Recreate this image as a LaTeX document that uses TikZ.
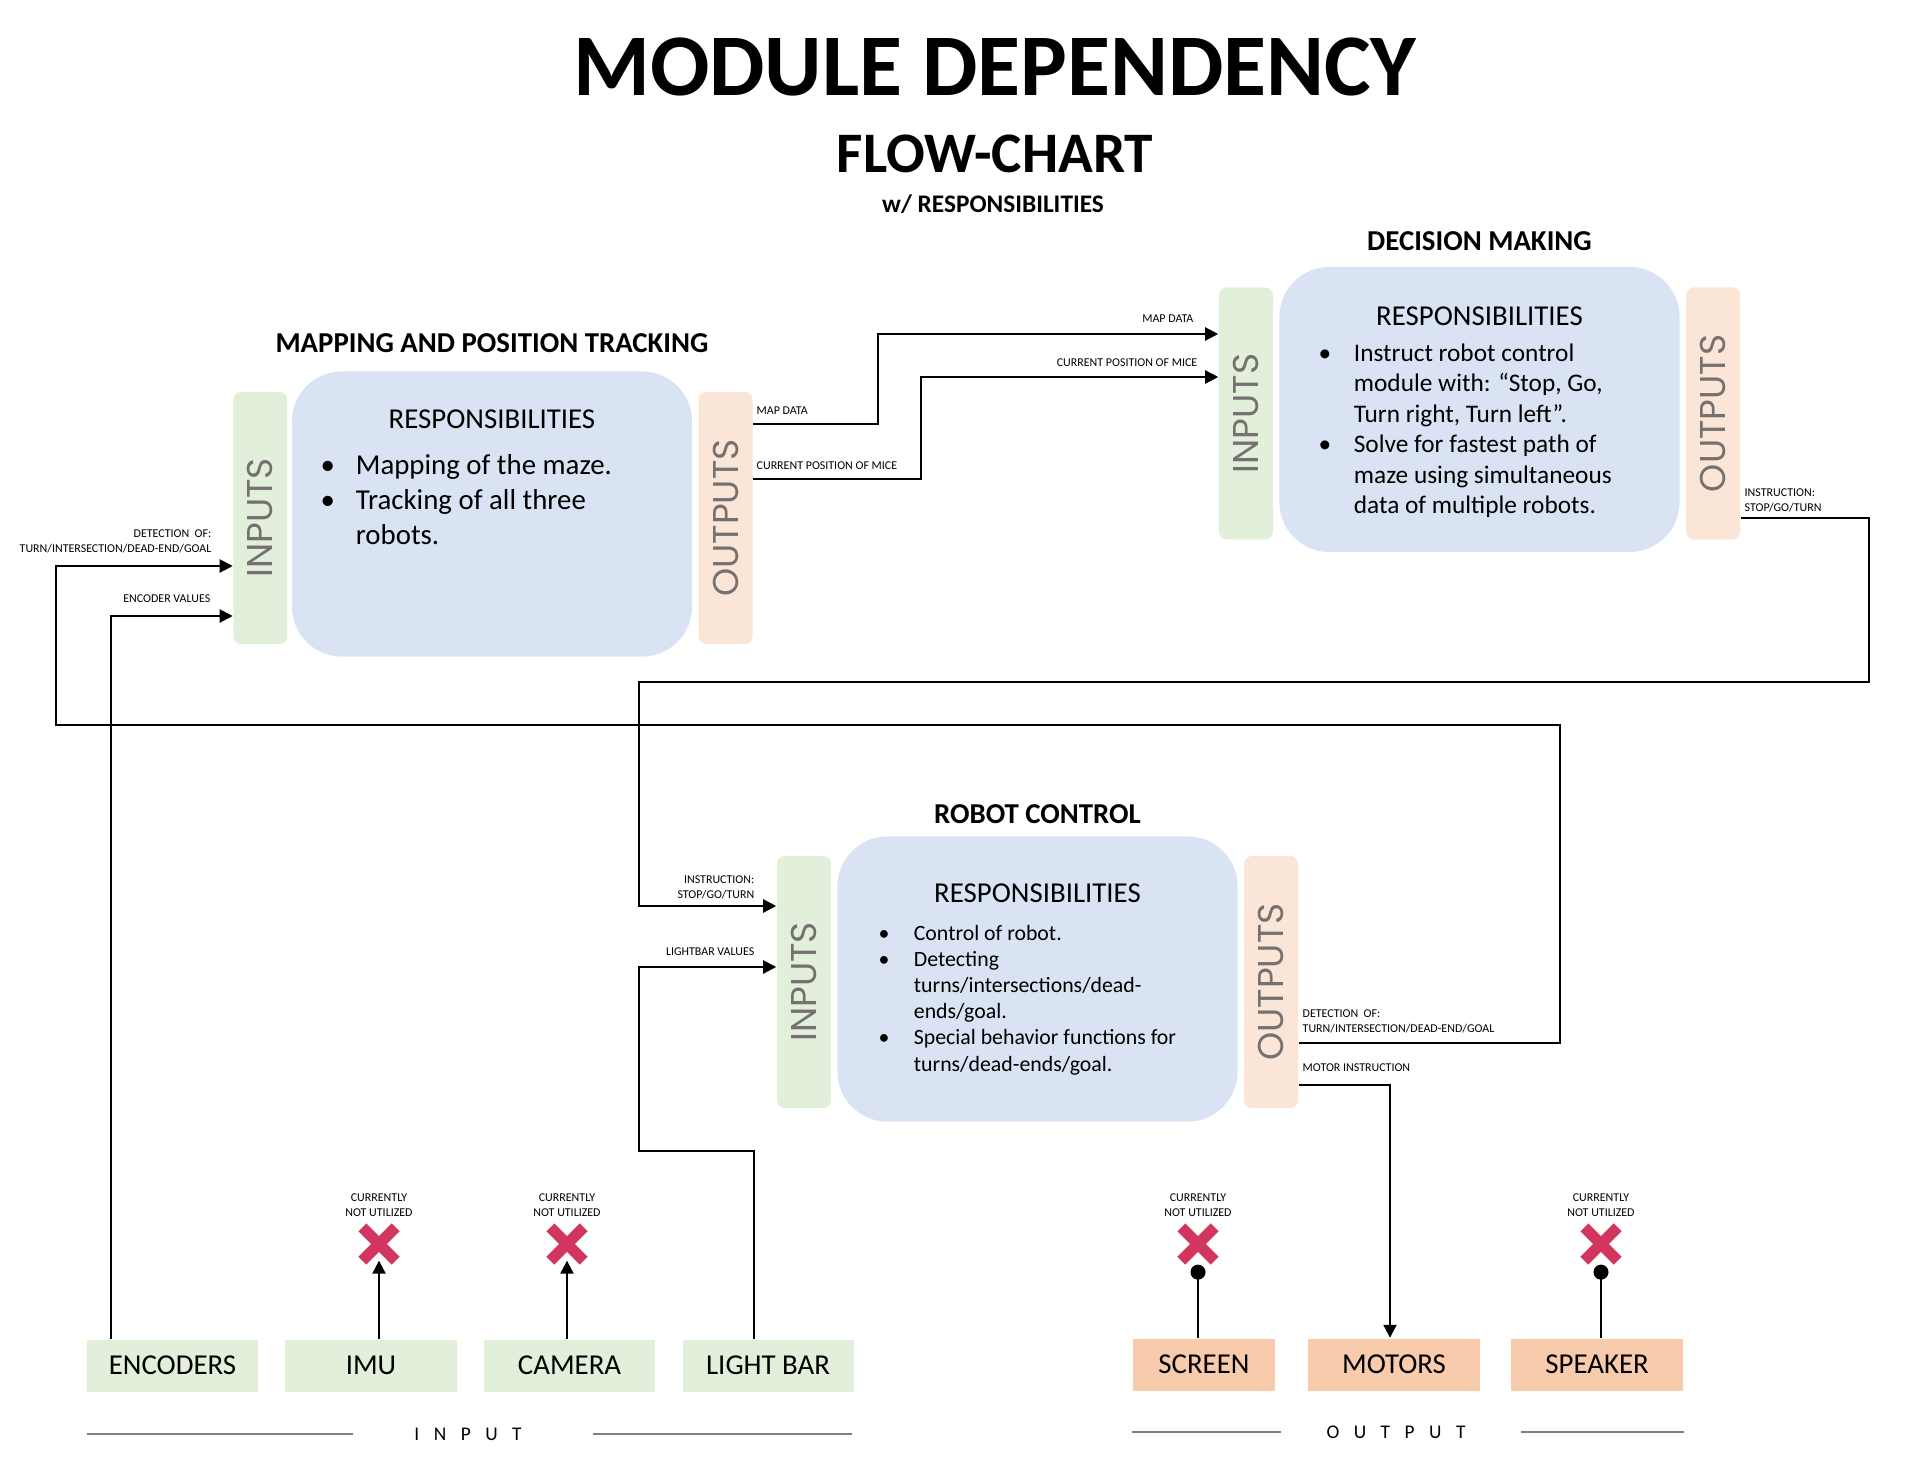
\documentclass[tikz,border=0pt]{standalone}
\usepackage{fontspec}
\setmainfont{Carlito}
\newfontfamily\barfont{Poppins}
\usetikzlibrary{positioning,arrows.meta,shapes.misc}

\definecolor{ingreen}{RGB}{226,239,218}
\definecolor{respblue}{RGB}{218,227,243}
\definecolor{outpeach}{RGB}{251,229,214}
\definecolor{devpeach}{RGB}{248,203,173}
\definecolor{bargray}{RGB}{118,113,113}
\definecolor{rulegray}{RGB}{128,128,128}
\definecolor{xred}{RGB}{210,54,95}

\newcommand{\bul}{\makebox[8.3pt][l]{\hspace*{-1.7pt}\textbullet}}
\newcommand{\nobul}{\hspace*{8.3pt}}

\tikzset{
  resp/.style={fill=respblue, rounded corners=0.5cm, minimum width=4cm, minimum height=2.85cm},
  inbar/.style={fill=ingreen, rounded corners=0.08cm, minimum width=0.54cm, minimum height=2.52cm,
    inner sep=0pt, text=bargray, font=\barfont\fontsize{10.2}{12}\selectfont},
  outbar/.style={inbar, fill=outpeach},
  modtitle/.style={font=\bfseries\fontsize{8.2}{10}\selectfont},
  resphead/.style={font=\fontsize{8.2}{10}\selectfont, inner sep=0pt},
  resplist/.style={anchor=base west, inner sep=0pt},
  device/.style={fill=ingreen, minimum width=1.71cm, minimum height=0.52cm, inner sep=0pt,
    font=\fontsize{8.2}{10}\selectfont},
  outdevice/.style={device, fill=devpeach},
  sig/.style={font=\fontsize{3.4}{4.2}\selectfont, inner sep=0pt},
  unused/.style={cross out, draw=xred, line width=3.2pt, minimum size=0.22cm, inner sep=0pt},
  flow/.style={line width=0.6pt, -{Triangle[length=0.13cm,width=0.13cm]}},
  wire/.style={line width=0.6pt},
  sep/.style={draw=rulegray, line width=0.6pt},
  sectlbl/.style={font=\fontsize{5.5}{6}\selectfont\addfontfeature{LetterSpace=75}},
}

\begin{document}
\begin{tikzpicture}[x=0.01cm, y=-0.01cm]
  \useasboundingbox (0,0) rectangle (1920,1484);

  % Titles
  \node (title) [anchor=base, font=\bfseries\fontsize{25}{30}\selectfont] at (995,95) {MODULE DEPENDENCY};
  \node (subtitle) [anchor=base, font=\bfseries\fontsize{16.3}{20}\selectfont] at (995,172) {FLOW-CHART};
  \node (tagline) [anchor=base, font=\bfseries\fontsize{7.2}{9}\selectfont] at (993,212) {w/ RESPONSIBILITIES};

  % Mapping module
  \node (map) [resp] at (492,514) {};
  \node (mapin) [inbar, left=0.03cm of map, yshift=-0.04cm] {\rotatebox{90}{INPUTS}};
  \node (mapout) [outbar, right=0.05cm of map, yshift=-0.04cm] {\rotatebox{90}{OUTPUTS}};
  \node (maptitle) [modtitle, above=0.06cm of map] {MAPPING AND POSITION TRACKING};
  \node (maphead) [resphead, below=0.38cm of map.north] {RESPONSIBILITIES};
  \node (maplist) [resplist, font=\fontsize{8.2}{10}\selectfont] at (326,474) {\begin{tabular}[t]{@{}l@{}}
      \bul Mapping of the maze.\\
      \bul Tracking of all three\\
      \nobul robots.
    \end{tabular}};

  % Decision module
  \node (dec) [resp] at (1479.5,409.5) {};
  \node (decin) [inbar, left=0.05cm of dec, yshift=-0.04cm] {\rotatebox{90}{INPUTS}};
  \node (decout) [outbar, right=0.05cm of dec, yshift=-0.04cm] {\rotatebox{90}{OUTPUTS}};
  \node (dectitle) [modtitle, above=0.03cm of dec] {DECISION MAKING};
  \node (dechead) [resphead, below=0.4cm of dec.north] {RESPONSIBILITIES};
  \node (declist) [resplist, font=\fontsize{7.2}{8.7}\selectfont] at (1324,361) {\begin{tabular}[t]{@{}l@{}}
      \bul Instruct robot control\\
      \nobul module with: “Stop, Go,\\
      \nobul Turn right, Turn left”.\\
      \bul Solve for fastest path of\\
      \nobul maze using simultaneous\\
      \nobul data of multiple robots.
    \end{tabular}};

  % Robot control module
  \node (rc) [resp] at (1037.5,979) {};
  \node (rcin) [inbar, left=0.05cm of rc, yshift=-0.03cm] {\rotatebox{90}{INPUTS}};
  \node (rcout) [outbar, right=0.05cm of rc, yshift=-0.03cm] {\rotatebox{90}{OUTPUTS}};
  \node (rctitle) [modtitle, above=0cm of rc] {ROBOT CONTROL};
  \node (rchead) [resphead, below=0.47cm of rc.north] {RESPONSIBILITIES};
  \node (rclist) [resplist, font=\fontsize{6.2}{7.45}\selectfont] at (884,940) {\begin{tabular}[t]{@{}l@{}}
      \bul Control of robot.\\
      \bul Detecting\\
      \nobul turns/intersections/dead-\\
      \nobul ends/goal.\\
      \bul Special behavior functions for\\
      \nobul turns/dead-ends/goal.
    \end{tabular}};

  % Devices
  \node (enc) [device] at (172.5,1365.5) {ENCODERS};
  \node (imu) [device, right=0.26cm of enc] {IMU};
  \node (cam) [device, right=0.26cm of imu] {CAMERA};
  \node (lbar) [device, right=0.26cm of cam] {LIGHT BAR};
  \node (scr) [outdevice, minimum width=1.42cm] at (1204,1364.5) {SCREEN};
  \node (mot) [outdevice, right=0.32cm of scr] {MOTORS};
  \node (spk) [outdevice, right=0.3cm of mot, minimum width=1.72cm] {SPEAKER};

  % Not utilized marks
  \foreach \n/\xx in {imux/379, camx/567, scrx/1198, spkx/1601} {
    \node (\n) [unused] at (\xx,1244) {};
    \node (\n note) [sig, align=center, above=0.1cm of \n] {CURRENTLY\\NOT UTILIZED};
  }

  % Wire labels
  \node (mapdataout) [sig, anchor=west] at (756,411) {MAP DATA};
  \node (posout) [sig, anchor=west] at (756,466) {CURRENT POSITION OF MICE};
  \node (mapdatain) [sig, anchor=east] at (1194,319) {MAP DATA};
  \node (posin) [sig, anchor=east] at (1198,363) {CURRENT POSITION OF MICE};
  \node (instrout) [sig, anchor=west, align=left] at (1744,500) {INSTRUCTION:\\STOP/GO/TURN};
  \node (instrin) [sig, anchor=east, align=right] at (755,887.5) {INSTRUCTION:\\STOP/GO/TURN};
  \node (lbarval) [sig, anchor=east] at (755,952) {LIGHTBAR VALUES};
  \node (detout) [sig, anchor=west, align=left] at (1302,1021.5) {DETECTION\ \ OF:\\TURN/INTERSECTION/DEAD-END/GOAL};
  \node (detin) [sig, anchor=east, align=right] at (212,541.5) {DETECTION\ \ OF:\\TURN/INTERSECTION/DEAD-END/GOAL};
  \node (encval) [sig, anchor=east] at (211,599) {ENCODER VALUES};
  \node (motinstr) [sig, anchor=west] at (1302,1068) {MOTOR INSTRUCTION};

  % Arrows
  \draw [flow] (mapout.east |- 0,424) -| (878,334) -- (decin.west |- 0,334);
  \draw [flow] (mapout.east |- 0,479) -| (921,377) -- (decin.west |- 0,377);
  \draw [flow] (decout.east |- 0,518) -| (1869,682) -| (639,906) -- (rcin.west |- 0,906);
  \draw [flow] (rcout.east |- 0,1043) -| (1560,725) -| (56,566) -- (mapin.west |- 0,566);
  \draw [flow] (rcout.east |- 0,1085) -| (mot.north -| 1390,0);
  \draw [flow] (enc.north -| 111,0) |- (mapin.west |- 0,616);
  \draw [flow] (lbar.north -| 754,0) |- (639,1151) |- (rcin.west |- 0,967);
  \draw [flow] (imu.north -| imux) -- (imux.south);
  \draw [flow] (cam.north -| camx) -- (camx.south);
  \draw [wire, -{Circle[length=0.15cm]}] (scr.north -| scrx) -- ([yshift=-0.04cm]scrx.south);
  \draw [wire, -{Circle[length=0.15cm]}] (spk.north -| spkx) -- ([yshift=-0.04cm]spkx.south);

  % Input / output rules
  \draw [sep] (87,1434) -- (353,1434);
  \draw [sep] (593,1434) -- (852,1434);
  \node (inlbl) [sectlbl] at (468,1434) {INPUT};
  \draw [sep] (1132,1432) -- (1281,1432);
  \draw [sep] (1521,1432) -- (1684,1432);
  \node (outlbl) [sectlbl] at (1396,1432) {OUTPUT};

\end{tikzpicture}
\end{document}
